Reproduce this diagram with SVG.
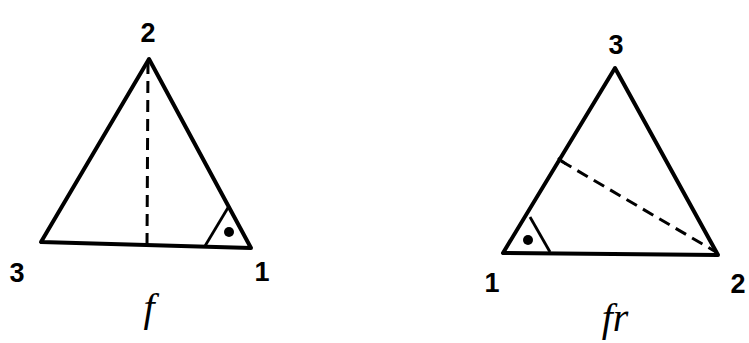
<svg xmlns="http://www.w3.org/2000/svg" width="749" height="343" viewBox="0 0 749 343">
<style>
.tri{fill:none;stroke:#000;stroke-width:4;stroke-linejoin:round;stroke-linecap:round}
.small{fill:none;stroke:#000;stroke-width:2.8;stroke-linejoin:round}
.dash{fill:none;stroke:#000;stroke-width:3;stroke-dasharray:12 7}
.num{font-family:"Liberation Sans",Arial,sans-serif;font-weight:bold;font-size:27px;text-anchor:middle;fill:#000}
.lab{font-family:"Liberation Serif","Times New Roman",serif;font-style:italic;font-size:40px;text-anchor:middle;fill:#000}
</style>
<rect width="749" height="343" fill="#fff"/>
<g id="fig-f">
<polygon class="tri" points="149,59 41,242 251,248"/>
<line class="dash" x1="148" y1="62" x2="147" y2="246"/>
<polyline class="small" points="229,206 205,246"/>
<circle cx="229" cy="232" r="5" fill="#000"/>
<text class="num" x="148" y="42">2</text>
<text class="num" x="17" y="282">3</text>
<text class="num" x="262" y="281">1</text>
<text class="lab" x="149" y="321">f</text>
</g>
<g id="fig-fr">
<polygon class="tri" points="615,68 503,253 718,255"/>
<line class="dash" x1="561" y1="161" x2="716" y2="252"/>
<line class="small" x1="558" y1="158" x2="566" y2="164"/>
<polyline class="small" points="530,217 550,252"/>
<circle cx="528" cy="240" r="5" fill="#000"/>
<text class="num" x="616" y="54">3</text>
<text class="num" x="492" y="292">1</text>
<text class="num" x="738" y="293">2</text>
<text class="lab" x="615" y="331">fr</text>
</g>
</svg>
